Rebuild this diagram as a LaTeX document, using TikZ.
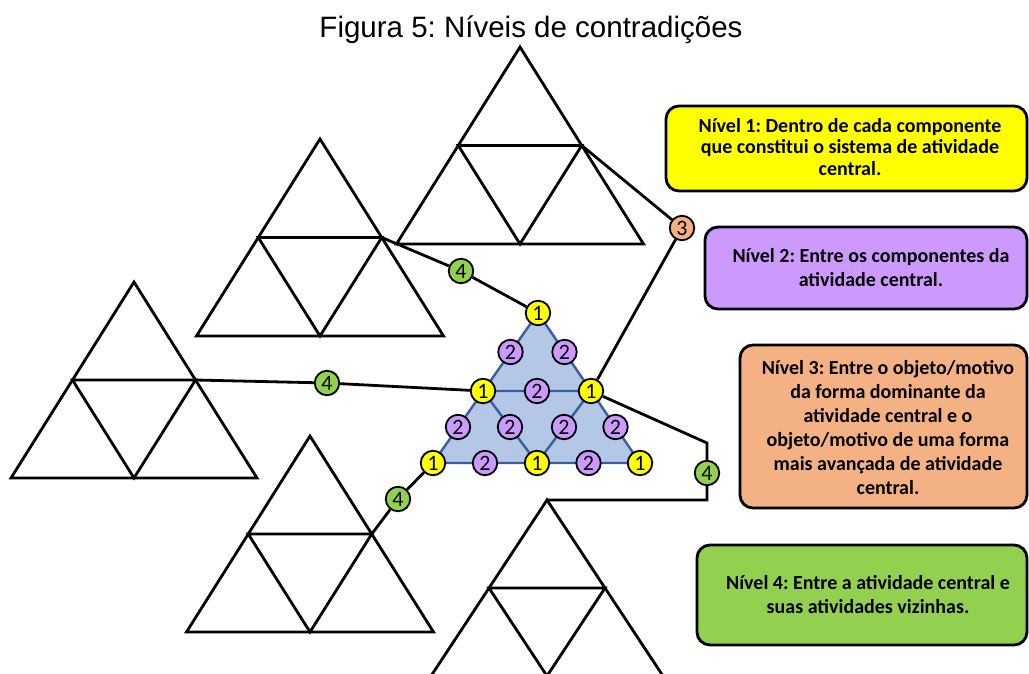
\documentclass[tikz,border=0pt]{standalone}
\usepackage{fontspec}
\setmainfont{Carlito}
\newfontfamily\titlefont{Liberation Sans}
\usetikzlibrary{calc}
\frenchspacing
\definecolor{lvyellow}{HTML}{FFFF00}
\definecolor{lvpurple}{HTML}{CC99FF}
\definecolor{lvorange}{HTML}{F4B183}
\definecolor{lvgreen}{HTML}{92D050}
\definecolor{corefill}{HTML}{B4C7E7}
\definecolor{coreedge}{HTML}{3B5E9A}

% activity triangle: name, apex x, apex y, half width, height
\newcommand\activitytri[5]{%
  \coordinate (#1-top) at (#2,#3);
  \coordinate (#1-bl) at (#2-#4,#3+#5);
  \coordinate (#1-br) at (#2+#4,#3+#5);
  \coordinate (#1-ml) at (#2-#4/2,#3+#5/2);
  \coordinate (#1-mr) at (#2+#4/2,#3+#5/2);
  \coordinate (#1-bm) at (#2,#3+#5);
  \draw[tri] (#1-top) -- (#1-bl) -- (#1-br) -- cycle;
  \draw[tri] (#1-ml) -- (#1-mr) -- (#1-bm) -- cycle;
}

\begin{document}
\begin{tikzpicture}[x=1pt,y=-1pt,
  tri/.style={draw=black,line width=2.8pt,line join=miter},
  link/.style={draw=black,line width=2.8pt},
  badge/.style={circle,draw=black,line width=1.8pt,minimum size=24.5pt,inner sep=0pt,
    font=\fontsize{22}{22}\selectfont},
  lvone/.style={badge,fill=lvyellow},
  lvtwo/.style={badge,fill=lvpurple},
  lvthree/.style={badge,fill=lvorange},
  lvfour/.style={badge,fill=lvgreen},
  levelbox/.style={draw=black,line width=2.8pt,rounded corners=13pt,rectangle,inner sep=0pt},
  boxtext/.style={align=center,inner sep=0pt,font=\bfseries\fontsize{20}{24}\selectfont}
]
\useasboundingbox (0,0) rectangle (1029,673);
\clip (0,0) rectangle (1029,673);

% title
\node[anchor=base,font=\titlefont\fontsize{29.5}{30}\selectfont] (title) at (531,37)
  {Figura 5: Níveis de contradições};

% neighbouring activity systems
\activitytri{ta}{520}{47}{123.5}{197}
\activitytri{tb}{320}{139}{123.5}{197}
\activitytri{tc}{134}{282}{123}{196}
\activitytri{td}{310}{436}{123.5}{196}
\activitytri{te}{547}{500}{116}{176}

% central activity system
\coordinate (c-top) at (538,313);
\coordinate (c-ml) at (483,391);
\coordinate (c-mr) at (591,391);
\coordinate (c-bl) at (433,463);
\coordinate (c-bm) at (537,463);
\coordinate (c-br) at (640,463);
\fill[corefill] (c-top) -- (c-bl) -- (c-br) -- cycle;
\draw[coreedge,line width=2.4pt] (c-top) -- (c-bl) -- (c-br) -- cycle;
\draw[coreedge,line width=2.4pt] (c-ml) -- (c-mr) -- (c-bm) -- cycle;

% level 2 markers between components
\node[lvtwo] (p1) at ($(c-top)!0.5!(c-ml)$) {2};
\node[lvtwo] (p2) at ($(c-top)!0.5!(c-mr)$) {2};
\node[lvtwo] (p3) at ($(c-ml)!0.5!(c-mr)$) {2};
\node[lvtwo] (p4) at ($(c-ml)!0.5!(c-bl)$) {2};
\node[lvtwo] (p5) at ($(c-ml)!0.5!(c-bm)$) {2};
\node[lvtwo] (p6) at ($(c-mr)!0.5!(c-bm)$) {2};
\node[lvtwo] (p7) at ($(c-mr)!0.5!(c-br)$) {2};
\node[lvtwo] (p8) at ($(c-bl)!0.5!(c-bm)$) {2};
\node[lvtwo] (p9) at ($(c-bm)!0.5!(c-br)$) {2};

% level 1 markers on the components
\node[lvone] (k1) at (c-top) {1};
\node[lvone] (k2) at (c-ml) {1};
\node[lvone] (k3) at (c-mr) {1};
\node[lvone] (k4) at (c-bl) {1};
\node[lvone] (k5) at (c-bm) {1};
\node[lvone] (k6) at (c-br) {1};

% level 3 and level 4 markers
\node[lvthree] (o3) at (682,228) {3};
\node[lvfour] (g1) at (461,271) {4};
\node[lvfour] (g2) at (327,383) {4};
\node[lvfour] (g3) at (398,499) {4};
\node[lvfour] (g4) at (707,473) {4};
\coordinate (bend1) at (707,443);
\coordinate (bend2) at (707,500);

% connectors
\draw[link] (tb-mr) -- (g1) -- (k1);
\draw[link] (tc-mr) -- (g2) -- (k2);
\draw[link] (td-mr) -- (g3) -- (k4);
\draw[link] (ta-mr) -- (o3) -- (k3);
\draw[link,line join=miter] (k3) -- (bend1) -- (g4) -- (bend2) -- (te-top);

% level descriptions
\node[levelbox,fill=lvyellow,minimum width=361pt,minimum height=85pt] (b1) at (846.5,148.5) {};
\node[boxtext,font=\bfseries\fontsize{20}{21.6}\selectfont] (t1) at (850,147)
  {Nível 1: Dentro de cada componente\\que constitui o sistema de atividade\\central.};
\node[levelbox,fill=lvpurple,minimum width=322pt,minimum height=82pt] (b2) at (866,268) {};
\node[boxtext] (t2) at (871,268) {Nível 2: Entre os componentes da\\atividade central.};
\node[levelbox,fill=lvorange,minimum width=287pt,minimum height=163pt] (b3) at (883.5,426.5) {};
\node[boxtext] (t3) at (888,428)
  {Nível 3: Entre o objeto/motivo\\da forma dominante da\\atividade central e o\\objeto/motivo de uma forma\\mais avançada de atividade\\central.};
\node[levelbox,fill=lvgreen,minimum width=330pt,minimum height=100pt] (b4) at (862,595) {};
\node[boxtext] (t4) at (868,595) {Nível 4: Entre a atividade central e\\suas atividades vizinhas.};
\end{tikzpicture}
\end{document}
